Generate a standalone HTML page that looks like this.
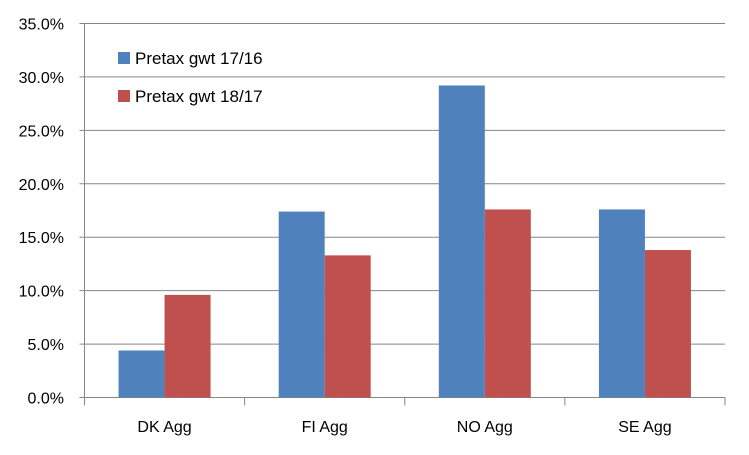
<!DOCTYPE html>
<html><head><meta charset="utf-8"><style>
body{margin:0;background:#fff;}
svg text{font-family:"Liberation Sans",sans-serif;fill:#000;}
</style></head><body>
<svg id="chart" width="749" height="450" xmlns="http://www.w3.org/2000/svg"></svg>
<script>
const categories=["DK Agg","FI Agg","NO Agg","SE Agg"];
const series1=[4.4,17.4,29.2,17.6];
const series2=[9.6,13.3,17.6,13.8];
const seriesNames=["Pretax gwt 17/16","Pretax gwt 18/17"];
const yTicks=[0,5,10,15,20,25,30,35];
const colors=["#4f81bd","#c0504d"];
const NS="http://www.w3.org/2000/svg";
const svg=document.getElementById('chart');
const x0=84.5,x1=725,y0=397.5,y1=23.5,yMax=35;
const y=v=>y0-(v/yMax)*(y0-y1);
const band=(x1-x0)/categories.length;
const bx=i=>x0+band*i;
function mk(t,a){const e=document.createElementNS(NS,t);for(const k in a)e.setAttribute(k,a[k]);svg.appendChild(e);return e;}
yTicks.forEach(t=>{
 const l=mk('line',{x1:x0-5,x2:x1,y1:y(t),y2:y(t),stroke:'#868686','stroke-width':1});
 
 
 const tx=mk('text',{x:64,y:y(t)+6,'text-anchor':'end','font-size':16});
 tx.textContent=t.toFixed(1)+'%';
 
 
});
const ax=mk('line',{x1:x0,x2:x0,y1:y1,y2:y0+8,stroke:'#868686'});


for(let i=1;i<=categories.length;i++){
 const t=mk('line',{x1:bx(i),x2:bx(i),y1:y0,y2:y0+8,stroke:'#868686'});
 
 
}
const bw=46;
categories.forEach((c,i)=>{
 const cx=bx(i)+band/2;
 [series1,series2].forEach((s,k)=>{
  const r=mk('rect',{x:cx-bw+k*bw,y:y(s[i]),width:bw,height:y0-y(s[i]),fill:colors[k]});
  
  
 });
 const t=mk('text',{x:cx,y:432,'text-anchor':'middle','font-size':16});
 t.textContent=c;
 
 
});
seriesNames.forEach((n,k)=>{
 const yy=52+k*38;
 const r=mk('rect',{x:118,y:yy,width:12,height:12,fill:colors[k]});
 
 
 const t=mk('text',{x:135,y:yy+12,'font-size':17});
 t.textContent=n;
 
 
});
</script>
</body></html>
